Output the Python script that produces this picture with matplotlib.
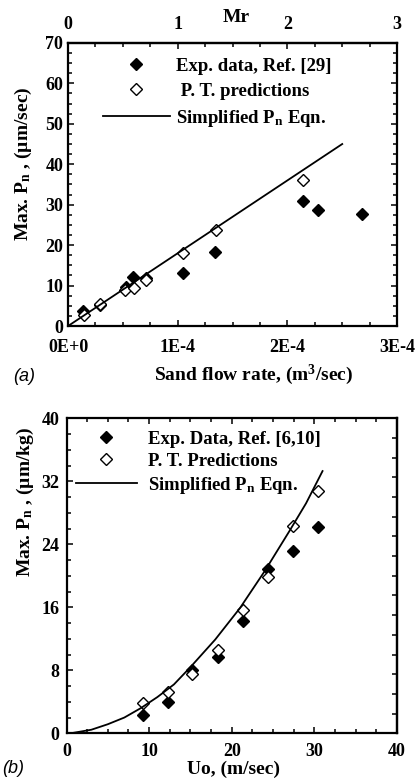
import numpy as np
import matplotlib
matplotlib.use("Agg")
from matplotlib import pyplot as plt
from matplotlib.ticker import FixedLocator, MultipleLocator, FixedFormatter

plt.rcParams['font.family'] = ['Liberation Serif', 'DejaVu Serif']
plt.rcParams['font.weight'] = 'bold'
plt.rcParams['axes.labelweight'] = 'bold'
plt.rcParams['mathtext.fontset'] = 'custom'
plt.rcParams['mathtext.rm'] = 'Liberation Serif:bold'
plt.rcParams['mathtext.it'] = 'Liberation Serif:italic:bold'
plt.rcParams['mathtext.bf'] = 'Liberation Serif:bold'

# ---- panel (a): sand flow rate ----
q_exp = [1.4e-5, 2.9e-5, 5.25e-5, 5.9e-5, 7.1e-5, 1.045e-4, 1.34e-4, 2.145e-4, 2.28e-4, 2.68e-4]
pn_exp = [3.8, 5.3, 9.6, 12.2, 12.0, 13.0, 18.4, 30.8, 28.8, 27.8]
q_pt = [1.5e-5, 2.9e-5, 5.2e-5, 6.0e-5, 7.1e-5, 1.045e-4, 1.35e-4, 2.145e-4]
pn_pt = [2.8, 5.5, 8.9, 9.4, 11.3, 18.0, 23.8, 36.2]
q_line = [0.0, 2.5e-4]
pn_line = [0.0, 45.0]
q_ticks = [0, 1e-4, 2e-4, 3e-4]
q_ticklabels = ['0E+0', '1E-4', '2E-4', '3E-4']
mr_ticks = [0, 1, 2, 3]

# ---- panel (b): impact velocity ----
u_exp = [9.2, 12.3, 15.25, 18.36, 21.35, 24.4, 27.4, 30.5]
pb_exp = [2.3, 4.0, 8.0, 9.7, 14.2, 20.8, 23.1, 26.2]
u_pt = [9.2, 12.3, 15.25, 18.36, 21.35, 24.4, 27.4, 30.5]
pb_pt = [3.9, 5.3, 7.5, 10.6, 15.6, 19.8, 26.3, 30.8]
u_curve = [0.5, 3, 5, 7, 9, 11, 13, 15, 18, 21, 24, 27, 29, 31]
pb_curve = [0.0, 0.45, 1.15, 2.0, 3.2, 4.6, 6.2, 8.4, 11.9, 15.9, 20.6, 25.7, 29.2, 33.3]

fig = plt.figure(figsize=(4.16, 7.8), dpi=100)
ax1 = fig.add_axes([0.1635, 0.582, 0.791, 0.363])
ax2 = fig.add_axes([0.160, 0.0599, 0.794, 0.4038])

def style(ax):
    for s in ax.spines.values():
        s.set_linewidth(1.6)
    ax.tick_params(which='both', direction='in', top=True, right=True,
                   width=1.1, labelsize=13)
    ax.tick_params(which='major', length=4)
    ax.tick_params(which='minor', length=3)

# panel (a)
ax1.plot(q_exp, pn_exp, 'D', color='black', markersize=6.3, label='Exp. data, Ref. [29]')
ax1.plot(q_pt, pn_pt, 'D', markerfacecolor='white', markeredgecolor='black',
         markeredgewidth=1.0, markersize=6.3, label=' P. T. predictions')
ax1.plot(q_line, pn_line, '-', color='black', linewidth=1.3, label=r'Simplified P$_\mathrm{n}$ Eqn.')
ax1.set_xlim(0, 3e-4)
ax1.set_ylim(0, 70)
style(ax1)
ax1.tick_params(top=False, axis='x', which='both', pad=9)
ax1.xaxis.set_major_locator(FixedLocator(q_ticks))
ax1.xaxis.set_major_formatter(FixedFormatter(q_ticklabels))
ax1.xaxis.set_minor_locator(MultipleLocator(0.25e-4))
ax1.yaxis.set_major_locator(MultipleLocator(10))
ax1.yaxis.set_minor_locator(MultipleLocator(2.5))
ax1.set_xlabel(r'Sand flow rate, (m$^\mathrm{3}$/sec)', fontsize=14)
ax1.xaxis.label.set_va('center')
ax1.xaxis.set_label_coords(0.565, -0.173)
ax1.set_ylabel(r'Max. P$_\mathrm{n}$ , (µm/sec)', fontsize=14)
ax1.yaxis.label.set_va('center')
ax1.yaxis.set_label_coords(-0.135, 0.572)

top = ax1.secondary_xaxis('top', functions=(lambda q: q / 1e-4, lambda m: m * 1e-4))
top.set_xticks(mr_ticks)
top.xaxis.set_minor_locator(MultipleLocator(0.25))
top.tick_params(which='both', direction='in', width=1.1, labelsize=13, pad=7)
top.tick_params(which='major', length=4)
top.tick_params(which='minor', length=3)
top.spines['top'].set_linewidth(1.6)
ax1.text(0.51, 1.091, 'Mr', transform=ax1.transAxes, ha='center', va='center', fontsize=14)

leg1 = ax1.legend(loc='upper left', bbox_to_anchor=(0.106, 0.948), frameon=False,
                  fontsize=13.5, handlelength=3.57, handletextpad=0.32,
                  borderpad=0, borderaxespad=0, labelspacing=0.42)

# panel (b)
ax2.plot(u_exp, pb_exp, 'D', color='black', markersize=6.3, label='Exp. Data, Ref. [6,10]')
ax2.plot(u_pt, pb_pt, 'D', markerfacecolor='white', markeredgecolor='black',
         markeredgewidth=1.0, markersize=6.3, label='P. T. Predictions')
ax2.plot(u_curve, pb_curve, '-', color='black', linewidth=1.3, label=r'Simplified P$_\mathrm{n}$ Eqn.')
ax2.set_xlim(0, 40)
ax2.set_ylim(0, 40)
style(ax2)
ax2.tick_params(axis='y', right=False, which='both', pad=5)
ax2.tick_params(axis='x', which='both', pad=7)
ax2.xaxis.set_major_locator(MultipleLocator(10))
ax2.xaxis.set_minor_locator(MultipleLocator(2.5))
ax2.yaxis.set_major_locator(MultipleLocator(8))
ax2.yaxis.set_minor_locator(MultipleLocator(2))
right = ax2.secondary_yaxis('right')
right.yaxis.set_major_locator(MultipleLocator(10))
right.yaxis.set_minor_locator(MultipleLocator(2.5))
right.tick_params(which='both', direction='in', width=1.1, length=3.5, labelright=False)
right.spines['right'].set_linewidth(1.6)
ax2.set_xlabel('Uo, (m/sec)', fontsize=14)
ax2.xaxis.label.set_va('center')
ax2.xaxis.set_label_coords(0.505, -0.113)
ax2.set_ylabel(r'Max. P$_\mathrm{n}$ , (µm/kg)', fontsize=14)
ax2.yaxis.label.set_va('center')
ax2.yaxis.set_label_coords(-0.126, 0.734)

leg2 = ax2.legend(loc='upper left', bbox_to_anchor=(0.028, 0.96), frameon=False,
                  fontsize=13.5, handlelength=3.25, handletextpad=0.59,
                  borderpad=0, borderaxespad=0, labelspacing=0.26)

fig.text(0.058, 0.517, '(a)', fontsize=13, style='italic', fontweight='normal',
         family='Liberation Sans', ha='center', va='center')
fig.text(0.031, 0.015, '(b)', fontsize=13, style='italic', fontweight='normal',
         family='Liberation Sans', ha='center', va='center')

fig.savefig('out.png', dpi=100)
